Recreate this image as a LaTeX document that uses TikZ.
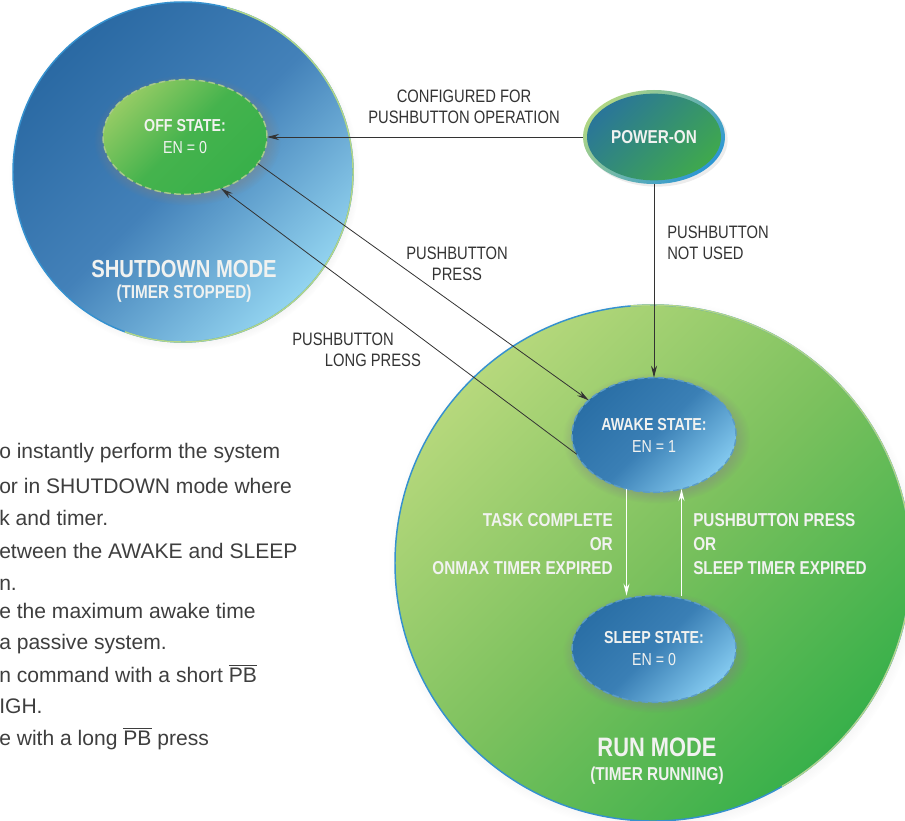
\documentclass[tikz,border=0pt]{standalone}
\usepackage{fontspec}
\setmainfont{Liberation Sans}
\newfontfamily\condfont[FakeStretch=0.82]{Liberation Sans}
\usetikzlibrary{arrows.meta}
\usetikzlibrary{shapes.geometric}
\usetikzlibrary{shadows}

\definecolor{shdtop}{HTML}{2A69A3}
\definecolor{shdmid}{HTML}{4381B9}
\definecolor{shdbot}{HTML}{93D4F0}
\definecolor{runtop}{HTML}{B6D87C}
\definecolor{runmid}{HTML}{7CC15E}
\definecolor{runbot}{HTML}{38B04A}
\definecolor{offtop}{HTML}{94CB64}
\definecolor{offmid}{HTML}{45B34D}
\definecolor{offbot}{HTML}{38B04A}
\definecolor{sttop}{HTML}{2A6FA6}
\definecolor{stmid}{HTML}{3A7FB5}
\definecolor{stbot}{HTML}{82C8EE}
\definecolor{pwrtop}{HTML}{2A7698}
\definecolor{pwrbot}{HTML}{3FA84E}
\definecolor{rimtop}{HTML}{B0D684}
\definecolor{rimbot}{HTML}{2C96D4}
\definecolor{edgeblue}{HTML}{3591CF}
\definecolor{edgegreen}{HTML}{B3D688}
\definecolor{offedge}{HTML}{A7C98A}
\definecolor{stedge}{HTML}{5B9CC6}
\definecolor{txtgray}{HTML}{333333}
\definecolor{sidegray}{HTML}{3E3E3E}
\definecolor{lblwhite}{HTML}{F1F2F0}

\newcommand\lblfont{\condfont\fontsize{13.5}{15.75}\selectfont}
\newcommand\wlblfont{\condfont\bfseries\fontsize{14}{18}\selectfont}
\newcommand\statefont{\condfont\fontsize{13}{16.5}\selectfont}
\newcommand\sidefont{\fontsize{15.8}{24}\selectfont}

\begin{document}
\begin{tikzpicture}[x=.75pt, y=-.75pt,
    mode/.style={circle, inner sep=0pt, outer sep=0pt, minimum size=#1,
      circular drop shadow={shadow xshift=1pt, shadow yshift=-2pt,
        shadow scale=1.03, opacity=.25}},
    state/.style={ellipse, inner sep=0pt, outer sep=0pt, minimum width=123pt,
      minimum height=#1, align=center, text=lblwhite, font=\statefont,
      line width=1.1pt, dash pattern=on 5pt off 2.5pt,
      circular drop shadow={shadow xshift=1.5pt, shadow yshift=-2pt,
        shadow scale=1.14, opacity=.4}},
    conn/.style={draw=txtgray, line width=.6pt, -{Stealth[length=9pt, width=4.5pt]}},
    back/.style={draw=white, line width=.8pt, -{Stealth[length=9pt, width=4.5pt]}},
    lbl/.style={text=txtgray, inner sep=0pt, font=\lblfont},
    wlbl/.style={text=lblwhite, inner sep=0pt, font=\wlblfont},
    side/.style={text=sidegray, inner sep=0pt, font=\sidefont, anchor=base west}]

  \useasboundingbox (0,0) rectangle (905,820);
  \clip (0,0) rectangle (905,820);

  % cut-off text on the left
  \foreach \y/\t [count=\i] in {458/o instantly perform the system,
      493/or in SHUTDOWN mode where, 525/k and timer.,
      558/etween the AWAKE and SLEEP, 590/n.,
      618/e the maximum awake time, 649/a passive system.,
      682/n command with a short $\overline{\mbox{PB}}$, 713/IGH.,
      745/e with a long $\overline{\mbox{PB}}$ press}
    \node[side] (side\i) at (-1,\y) {\t};

  % the two modes
  \node[mode=255pt, draw=edgeblue, line width=1.1pt, top color=shdtop,
    bottom color=shdbot, middle color=shdmid, shading angle=45] (shd) at (183,172) {};
  \draw[edgegreen, line width=1.1pt] (shd.75) arc[start angle=75, end angle=-110, radius=127.5pt];
  \node[mode=387pt, draw=edgeblue, line width=1.1pt, top color=runtop,
    bottom color=runbot, middle color=runmid, shading angle=45] (run) at (653,563) {};
  \draw[edgegreen, line width=1.1pt] (run.95) arc[start angle=95, end angle=-60, radius=193.5pt];

  \node[text=lblwhite, align=center, font=\condfont\bfseries\fontsize{18.5}{16}\selectfont]
    (shdlbl) at (184,281) {SHUTDOWN MODE\\\fontsize{14}{16}\selectfont(TIMER STOPPED)};
  \node[text=lblwhite, align=center, font=\condfont\bfseries\fontsize{20}{18}\selectfont]
    (runlbl) at (657,761) {RUN MODE\\\fontsize{14}{18}\selectfont(TIMER RUNNING)};

  % states
  \node[state=86pt, draw=offedge, top color=offtop, bottom color=offbot,
    middle color=offmid, shading angle=45] (off) at (185,137) {\textbf{OFF STATE:}\\EN = 0};
  \node[state=86pt, draw=stedge, top color=sttop, bottom color=stbot,
    middle color=stmid, shading angle=45] (awake) at (654,435) {\textbf{AWAKE STATE:}\\EN = 1};
  \node[state=80pt, draw=stedge, top color=sttop, bottom color=stbot,
    middle color=stmid, shading angle=45] (sleep) at (654,649) {\textbf{SLEEP STATE:}\\EN = 0};

  \node[ellipse, inner sep=0pt, outer sep=0pt, minimum width=106.5pt, minimum height=70.5pt,
    top color=rimtop, bottom color=rimbot, shading angle=45,
    drop shadow={shadow xshift=2pt, shadow yshift=-2pt, opacity=.15}] (pwr) at (654,137) {};
  \node[ellipse, inner sep=0pt, minimum width=100.5pt, minimum height=65pt,
    top color=pwrtop, bottom color=pwrbot, shading angle=45, text=lblwhite,
    font=\condfont\bfseries\fontsize{14}{16}\selectfont] (pwrcore) at (pwr) {POWER-ON};

  % transitions
  \draw[conn] (pwr.west) -- (off.east);
  \draw[conn] (pwr.south) -- (awake.north);
  \draw[conn] (off.-20) -- (awake.152);
  \draw[conn] (awake.194) -- (off.-55);
  \draw[back] (awake.-117) -- (awake.-117 |- sleep.north);
  \draw[back] (awake.-63 |- sleep.north) -- (awake.-63);

  \node[lbl, align=center] (cfglbl) at (464,107) {CONFIGURED FOR\\PUSHBUTTON OPERATION};
  \node[lbl, align=left, anchor=west] (nolbl) at (667,243) {PUSHBUTTON\\NOT USED};
  \node[lbl, align=center] (presslbl) at (457,264) {PUSHBUTTON\\PRESS};
  \node[lbl, align=left, anchor=west] (longlbl) at (292,350) {PUSHBUTTON\\\hspace*{24.5pt}LONG PRESS};
  \node[wlbl, align=right, anchor=east] (tasklbl) at (613,544) {TASK COMPLETE\\OR\\ONMAX TIMER EXPIRED};
  \node[wlbl, align=left, anchor=west] (pblbl) at (693,544) {PUSHBUTTON PRESS\\OR\\SLEEP TIMER EXPIRED};
\end{tikzpicture}
\end{document}
